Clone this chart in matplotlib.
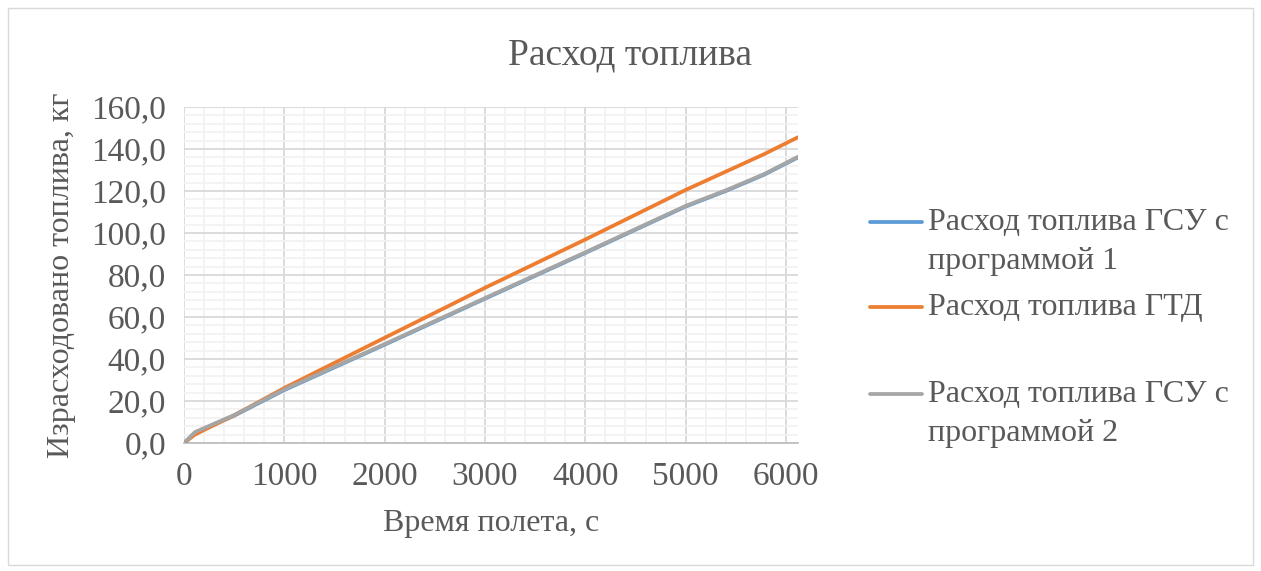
import numpy as np
import matplotlib
matplotlib.use('Agg')
import matplotlib.pyplot as plt
from matplotlib.lines import Line2D
from matplotlib.patches import Rectangle
from matplotlib.ticker import MultipleLocator, FuncFormatter

# время полета, с
t_gsu = [0, 110, 500, 1000, 2000, 3000, 4000, 5000, 5400, 5780, 6120]
t_gtd = [0, 110, 200, 500, 1000, 2000, 3000, 4000, 5000, 5780, 6120]

# израсходовано топлива, кг
fuel_gsu1 = [0, 4.9, 13.0, 25.2, 46.8, 68.7, 90.5, 112.6, 120.0, 127.7, 136.0]
fuel_gtd = [0, 4.0, 6.2, 13.2, 26.2, 50.1, 73.9, 96.9, 120.5, 137.5, 145.6]
fuel_gsu2 = [0, 5.2, 13.3, 25.5, 47.1, 69.0, 90.8, 112.9, 120.3, 128.0, 136.3]

names = ['Расход топлива ГСУ с\nпрограммой 1',
         'Расход топлива ГТД',
         'Расход топлива ГСУ с\nпрограммой 2']
colors = ['#5B9BD5', '#ED7D31', '#A5A5A5']
txt = '#595959'

plt.rcParams['font.family'] = ['Liberation Serif', 'DejaVu Serif']

fig = plt.figure(figsize=(12.61, 5.71), dpi=100)
ax = fig.add_axes([184/1261, 1 - 443/571, (798 - 184)/1261, (443 - 107)/571])

ax.plot(t_gsu, fuel_gsu1, color=colors[0], lw=2.7, solid_capstyle='round', zorder=3)
ax.plot(t_gtd, fuel_gtd, color=colors[1], lw=2.7, solid_capstyle='round', zorder=4)
ax.plot(t_gsu, fuel_gsu2, color=colors[2], lw=2.7, solid_capstyle='round', zorder=5)

ax.set_xlim(0, 6120)
ax.set_ylim(0, 160)
ax.xaxis.set_major_locator(MultipleLocator(1000))
ax.xaxis.set_minor_locator(MultipleLocator(200))
ax.yaxis.set_major_locator(MultipleLocator(20))
ax.yaxis.set_minor_locator(MultipleLocator(4))
ax.yaxis.set_major_formatter(FuncFormatter(lambda v, p: ('%.1f' % v).replace('.', ',')))
ax.grid(which='major', color='#D9D9D9', lw=1.3, zorder=0)
ax.grid(which='minor', color='#F2F2F2', lw=1.3, zorder=0)
ax.set_axisbelow(True)
for s in ['top', 'right', 'left']:
    ax.spines[s].set_visible(False)
ax.spines['bottom'].set_color('#BFBFBF')
ax.spines['bottom'].set_linewidth(1.3)
ax.tick_params(which='both', length=0, labelsize=24, colors=txt)
ax.tick_params(axis='y', pad=13)
ax.tick_params(axis='x', pad=13)

ax.set_xlabel('Время полета, с', fontsize=23, color=txt)
ax.xaxis.set_label_coords(0.5, -(523 - 443)/336)
ax.set_ylabel('Израсходовано топлива, кг', fontsize=23, color=txt)
ax.yaxis.set_label_coords(-(184 - 62)/614, 0.5)
ax.xaxis.label.set_va('center')
ax.yaxis.label.set_va('center')
fig.text(630/1261, 1 - 55/571, 'Расход топлива', fontsize=27, color=txt,
         ha='center', va='center')

# легенда
leg_y = [222, 307, 394]
for i in range(3):
    y = 1 - leg_y[i]/571
    fig.add_artist(Line2D([870/1261, 922/1261], [y, y], transform=fig.transFigure,
                          color=colors[i], lw=2.7, solid_capstyle='round'))
    lines = names[i].split('\n')
    for j, s in enumerate(lines):
        fig.text(928/1261, 1 - (leg_y[i] + 40*j)/571, s, fontsize=23, color=txt,
                 ha='left', va='center')

fig.add_artist(Rectangle((8/1261, 6/571), 1245/1261, 557/571, transform=fig.transFigure,
                         fill=False, ec='#D9D9D9', lw=1))

fig.savefig('out.png', dpi=100)
